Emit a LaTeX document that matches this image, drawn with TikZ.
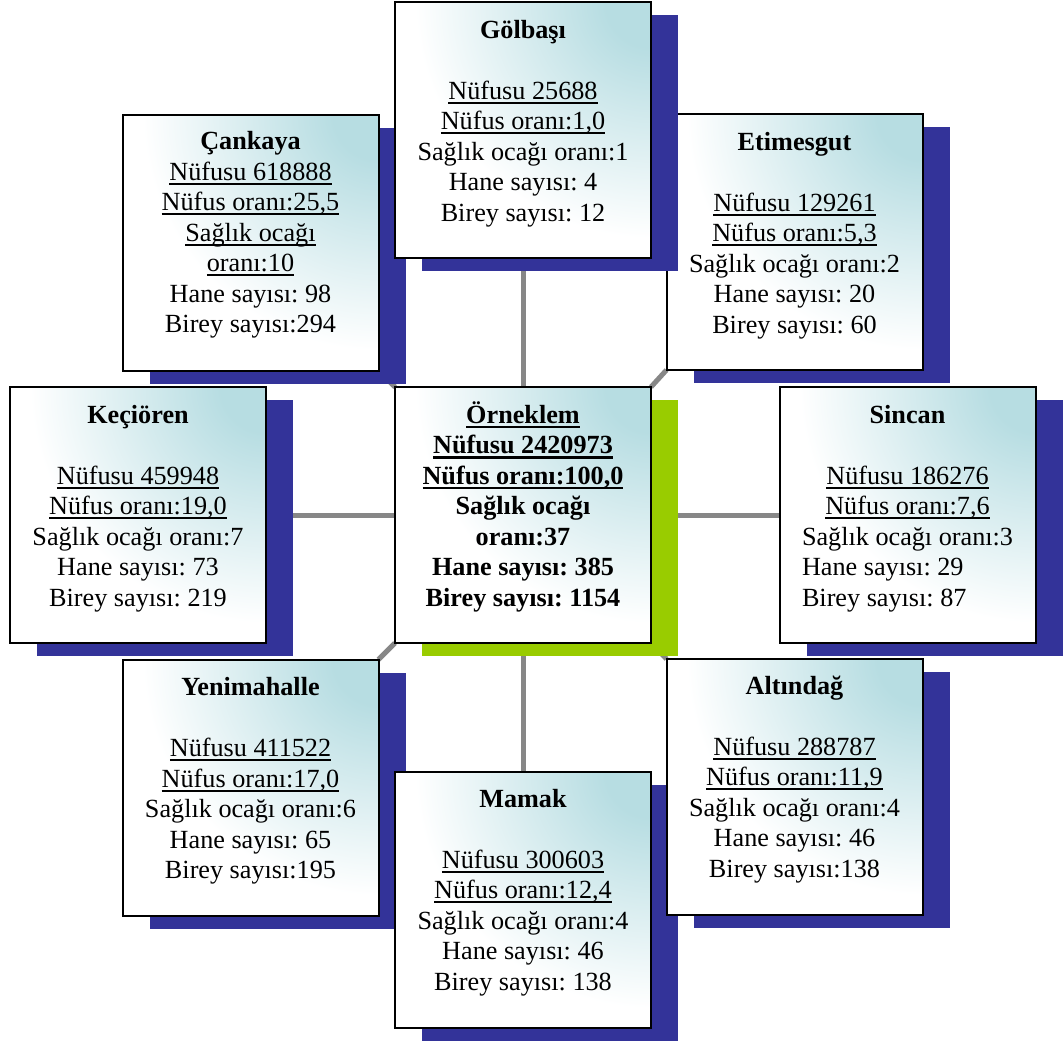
\documentclass[tikz,border=0pt]{standalone}
\usepackage{fontspec}
\setmainfont{Liberation Serif}
\usepackage{calc}
\usetikzlibrary{shadows,backgrounds}
\definecolor{shblue}{HTML}{333399}
\definecolor{shgreen}{HTML}{99CC00}
\definecolor{boxcyan}{HTML}{B7DDE2}
\definecolor{linkgray}{HTML}{878787}
\pgfdeclareradialshading{cornerfade}{\pgfpoint{0bp}{0bp}}{color(0bp)=(boxcyan); color(45bp)=(boxcyan); color(235bp)=(white); color(400bp)=(white)}
\newcommand\myul[1]{\setbox0\hbox{#1}\rlap{\rule[-4.5pt]{\wd0}{1.8pt}}\box0}
\newcommand\myulb[1]{\setbox0\hbox{#1}\rlap{\rule[-5pt]{\wd0}{2.4pt}}\box0}
\newcommand\firststrut{\rule{0pt}{24pt}}
\newcommand\sagl{Sağlık ocağı oranı:3}
\frenchspacing
\begin{document}
\frenchspacing
\begin{tikzpicture}[x=1pt,y=-1pt,
  box/.style={rectangle, draw=black, fill=white, line width=2pt,
    minimum width=256pt, minimum height=256pt, inner sep=0pt, outer sep=0pt,
    path picture={\begin{pgfscope}\pgftransformshift{\pgfpointanchor{path picture bounding box}{north east}}\pgflowlevelsynccm\pgfuseshading{cornerfade}\end{pgfscope}},
    drop shadow={shadow xshift=27pt, shadow yshift=-13pt, fill=#1, draw=none, opacity=1}},
  box/.default=shblue,
  txt/.style={anchor=north, align=center, inner sep=0pt, text=black,
    font=\fontsize{26.2}{30.5}\selectfont\frenchspacing},
  link/.style={draw=linkgray, line width=5pt}
]
\useasboundingbox (0,0) rectangle (1063,1041);

% Cankaya
\node[box] (cankaya) at (250.5,242.5) {};
\node[txt] (cankaya-t) at ([yshift=-11pt]cankaya.north)
  {\firststrut\textbf{Çankaya}\\ \myul{Nüfusu 618888}\\ \myul{Nüfus oranı:25,5}\\ \myul{Sağlık ocağı}\\ \myul{oranı:10}\\ Hane sayısı: 98\\ Birey sayısı:294};

% Etimesgut
\node[box] (etimesgut) at (794.5,242) {};
\node[txt] (etimesgut-t) at ([yshift=-12pt]etimesgut.north)
  {\firststrut\textbf{Etimesgut}\\[30.5pt] \myul{Nüfusu 129261}\\ \myul{Nüfus oranı:5,3}\\ Sağlık ocağı oranı:2\\ Hane sayısı: 20\\ Birey sayısı: 60};

% Golbasi
\node[box] (golbasi) at (523,130) {};
\node[txt] (golbasi-t) at ([yshift=-12pt]golbasi.north)
  {\firststrut\textbf{Gölbaşı}\\[30.5pt] \myul{Nüfusu 25688}\\ \myul{Nüfus oranı:1,0}\\ Sağlık ocağı oranı:1\\ Hane sayısı: 4\\ Birey sayısı: 12};

% Kecioren
\node[box] (kecioren) at (138,515) {};
\node[txt] (kecioren-t) at ([yshift=-12pt]kecioren.north)
  {\firststrut\textbf{Keçiören}\\[30.5pt] \myul{Nüfusu 459948}\\ \myul{Nüfus oranı:19,0}\\ Sağlık ocağı oranı:7\\ Hane sayısı: 73\\ Birey sayısı: 219};

% Center
\node[box=shgreen] (merkez) at (523,515) {};
\node[txt, font=\fontsize{26.2}{30.5}\selectfont\bfseries\frenchspacing] (merkez-t) at ([yshift=-12pt]merkez.north)
  {\firststrut\myulb{Örneklem}\\ \myulb{Nüfusu 2420973}\\ \myulb{Nüfus oranı:100,0}\\ Sağlık ocağı\\ oranı:37\\ Hane sayısı: 385\\ Birey sayısı: 1154};

% Sincan
\node[box] (sincan) at (907.5,515) {};
\node[txt] (sincan-t) at ([yshift=-12pt]sincan.north)
  {\firststrut\textbf{Sincan}\\[30.5pt] \myul{Nüfusu 186276}\\ \myul{Nüfus oranı:7,6}\\ \sagl\\
   \makebox[\widthof{\sagl}][l]{Hane sayısı: 29}\\ \makebox[\widthof{\sagl}][l]{Birey sayısı: 87}};

% Yenimahalle
\node[box] (yenimahalle) at (250.5,787.5) {};
\node[txt] (yenimahalle-t) at ([yshift=-12pt]yenimahalle.north)
  {\firststrut\textbf{Yenimahalle}\\[30.5pt] \myul{Nüfusu 411522}\\ \myul{Nüfus oranı:17,0}\\ Sağlık ocağı oranı:6\\ Hane sayısı: 65\\ Birey sayısı:195};

% Mamak
\node[box] (mamak) at (523,900) {};
\node[txt] (mamak-t) at ([yshift=-11pt]mamak.north)
  {\firststrut\textbf{Mamak}\\[30.5pt] \myul{Nüfusu 300603}\\ \myul{Nüfus oranı:12,4}\\ Sağlık ocağı oranı:4\\ Hane sayısı: 46\\ Birey sayısı: 138};

% Altindag
\node[box] (altindag) at (794.5,787) {};
\node[txt] (altindag-t) at ([yshift=-11pt]altindag.north)
  {\firststrut\textbf{Altındağ}\\[30.5pt] \myul{Nüfusu 288787}\\ \myul{Nüfus oranı:11,9}\\ Sağlık ocağı oranı:4\\ Hane sayısı: 46\\ Birey sayısı:138};

% connectors
\begin{scope}[on background layer]
\draw[link] (golbasi.south) -- (merkez.north);
\draw[link] (merkez.south) -- (mamak.north);
\draw[link] (kecioren.east) -- (merkez.west);
\draw[link] (merkez.east) -- (sincan.west);
\draw[link] (merkez.north west) -- (cankaya.south east);
\draw[link] (merkez.north east) -- (etimesgut.south west);
\draw[link] (merkez.south west) -- (yenimahalle.north east);
\draw[link] (merkez.south east) -- (altindag.north west);
\end{scope}
\end{tikzpicture}
\end{document}
